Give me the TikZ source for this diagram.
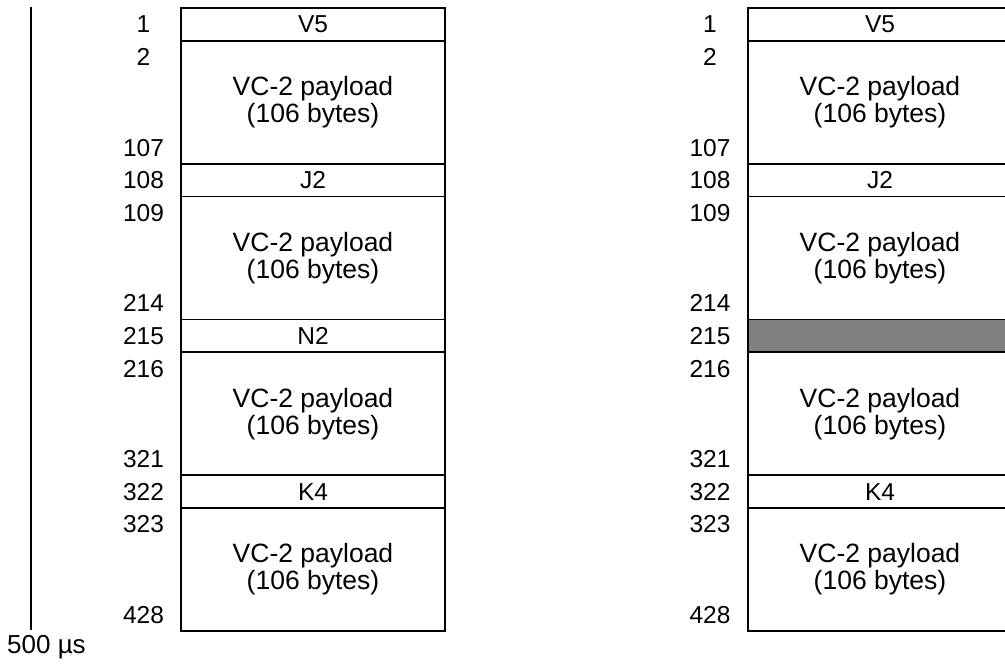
\documentclass[tikz,border=0pt]{standalone}
\usepackage{fontspec}
\setmainfont{Liberation Sans}
\begin{document}
\begin{tikzpicture}[x=1pt,y=-1pt,
  cell/.style={draw=black,line width=1.8pt,anchor=north west,inner sep=0pt,outer sep=0pt,
    minimum width=264pt,font=\fontsize{24.5}{26}\selectfont},
  small/.style={cell,minimum height=32.75pt},
  big/.style={cell,minimum height=123pt,align=center,font=\fontsize{26.5}{27}\selectfont},
  grey/.style={small,fill=black!50},
  num/.style={font=\fontsize{24.5}{26}\selectfont,inner sep=0pt,anchor=center}]
\useasboundingbox (0,0) rectangle (1005,666);
\clip (0,0) rectangle (1005,666);
% time axis
\coordinate (ta) at (31,7);
\coordinate (tb) at (31,630);
\draw[line width=1.8pt] (ta) -- (tb);
\node[font=\fontsize{26}{26}\selectfont,anchor=west,inner sep=0pt] (t500) at (7,647) {500 µs};
% left column
\node[small] (lv5) at (181,8) {V5};
\node[big] (lp1) at (181,40.75) {VC-2 payload\\(106 bytes)};
\node[small] (lj2) at (181,163.75) {J2};
\node[big] (lp2) at (181,196.5) {VC-2 payload\\(106 bytes)};
\node[small] (ln2) at (181,319.5) {N2};
\node[big] (lp3) at (181,352.25) {VC-2 payload\\(106 bytes)};
\node[small] (lk4) at (181,475.25) {K4};
\node[big] (lp4) at (181,508) {VC-2 payload\\(106 bytes)};
% right column
\node[small] (rv5) at (748,8) {V5};
\node[big] (rp1) at (748,40.75) {VC-2 payload\\(106 bytes)};
\node[small] (rj2) at (748,163.75) {J2};
\node[big] (rp2) at (748,196.5) {VC-2 payload\\(106 bytes)};
\node[grey] (rn2) at (748,319.5) {};
\node[big] (rp3) at (748,352.25) {VC-2 payload\\(106 bytes)};
\node[small] (rk4) at (748,475.25) {K4};
\node[big] (rp4) at (748,508) {VC-2 payload\\(106 bytes)};
% numbers
\foreach \c/\x in {l/143.5,r/710}{
  \node[num] (\c n1) at (\x,24.4) {1};
  \node[num] (\c n2) at (\x,57) {2};
  \node[num] (\c n107) at (\x,148) {107};
  \node[num] (\c n108) at (\x,180.1) {108};
  \node[num] (\c n109) at (\x,213) {109};
  \node[num] (\c n214) at (\x,303) {214};
  \node[num] (\c n215) at (\x,335.9) {215};
  \node[num] (\c n216) at (\x,369) {216};
  \node[num] (\c n321) at (\x,459) {321};
  \node[num] (\c n322) at (\x,491.6) {322};
  \node[num] (\c n323) at (\x,524.5) {323};
  \node[num] (\c n428) at (\x,615) {428};
}
\end{tikzpicture}
\end{document}
